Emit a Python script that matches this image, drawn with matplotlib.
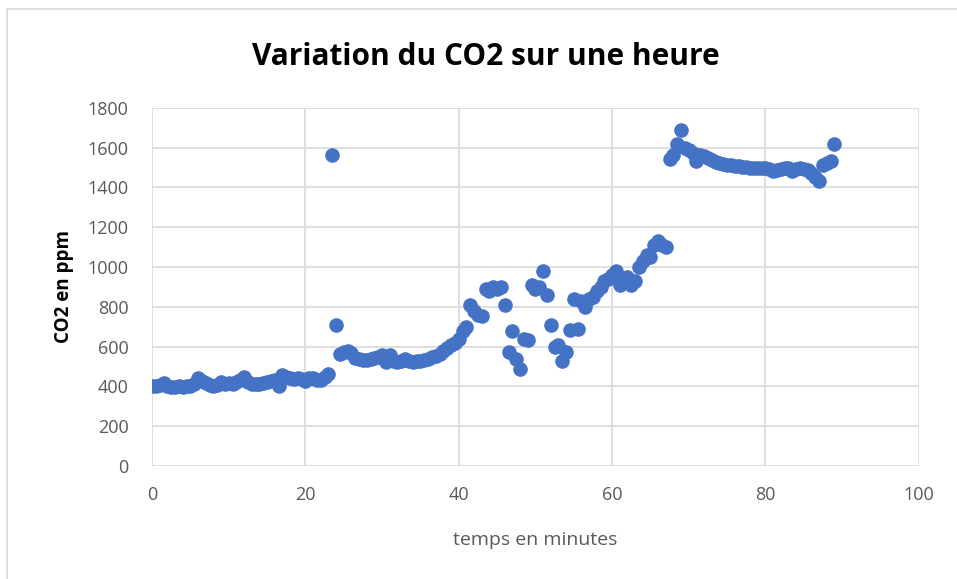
import matplotlib
matplotlib.use('Agg')
import matplotlib.pyplot as plt
from matplotlib.lines import Line2D

# temps (minutes) et CO2 (ppm)
temps = [0, 0.5, 1, 1.5, 2, 2.5, 3, 3.5, 4, 4.5, 5, 5.5, 6, 6.5, 7, 7.5, 8, 8.5, 9, 9.5,
         10, 10.5, 11, 11.5, 12, 12.5, 13, 13.5, 14, 14.5, 15, 15.5, 16, 16.5, 17, 17.5, 18, 18.5, 19, 19.5,
         20, 20.5, 21, 21.5, 22, 22.5, 23, 23.5, 24, 24.5, 25, 25.5, 26, 26.5, 27, 27.5, 28, 28.5, 29, 29.5,
         30, 30.5, 31, 31.5, 32, 32.5, 33, 33.5, 34, 34.5, 35, 35.5, 36, 36.5, 37, 37.5, 38, 38.5, 39, 39.5,
         40, 40.5, 41, 41.5, 42, 42.5, 43, 43.5, 44, 44.5, 45, 45.5, 46, 46.5, 47, 47.5, 48, 48.5, 49, 49.5,
         50, 50.5, 51, 51.5, 52, 52.5, 53, 53.5, 54, 54.5, 55, 55.5, 56, 56.5, 57, 57.5, 58, 58.5, 59, 59.5,
         60, 60.5, 61, 61.5, 62, 62.5, 63, 63.5, 64, 64.5, 65, 65.5, 66, 66.5, 67, 67.5, 68, 68.5, 69, 69.5,
         70, 70.5, 71, 71.5, 72, 72.5, 73, 73.5, 74, 74.5, 75, 75.5, 76, 76.5, 77, 77.5, 78, 78.5, 79, 79.5,
         80, 80.5, 81, 81.5, 82, 82.5, 83, 83.5, 84, 84.5, 85, 85.5, 86, 86.5, 87, 87.5, 88, 88.5, 89]
co2 = [400, 402, 405, 415, 400, 398, 398, 400, 398, 400, 402, 410, 440, 425, 415, 405, 403, 408, 420, 412,
       415, 410, 420, 430, 445, 420, 410, 412, 410, 418, 420, 428, 430, 400, 455, 445, 440, 438, 440, 435,
       425, 440, 440, 430, 430, 445, 465, 1560, 710, 565, 575, 580, 570, 545, 540, 535, 535, 540, 545, 550,
       560, 525, 560, 530, 525, 530, 540, 530, 525, 528, 530, 533, 540, 548, 555, 565, 580, 595, 610, 620,
       640, 680, 700, 810, 780, 760, 755, 890, 880, 900, 890, 900, 810, 575, 680, 540, 490, 640, 635, 910,
       890, 900, 980, 860, 710, 600, 610, 530, 575, 685, 840, 690, 830, 800, 840, 850, 880, 900, 930, 940,
       960, 980, 910, 940, 950, 910, 930, 1000, 1030, 1060, 1050, 1110, 1130, 1110, 1100, 1540, 1560, 1620, 1690, 1600,
       1590, 1570, 1530, 1560, 1555, 1545, 1535, 1525, 1520, 1515, 1512, 1510, 1508, 1505, 1503, 1500, 1498, 1497, 1497, 1497,
       1495, 1490, 1480, 1485, 1490, 1495, 1495, 1480, 1490, 1495, 1490, 1485, 1470, 1450, 1430, 1510, 1520, 1530, 1620]

fig = plt.figure(figsize=(9.57, 5.79), dpi=100)
ax = fig.add_axes([0.159, 0.195, 0.801, 0.619])

ax.plot(temps, co2, 'o', color='#4472C4', markersize=10.5, markeredgewidth=0, zorder=3)

ax.set_xlim(0, 100)
ax.set_ylim(0, 1800)
ax.set_xticks(range(0, 101, 20))
ax.set_yticks(range(0, 1801, 200))
ax.grid(True, color='#D9D9D9', linewidth=1.2)
ax.set_axisbelow(True)
for s in ax.spines.values():
    s.set_visible(False)
ax.tick_params(length=0, labelsize=13, colors='#595959')
ax.tick_params(axis='x', pad=14)
ax.tick_params(axis='y', pad=17)
for t in ax.get_xticklabels() + ax.get_yticklabels():
    t.set_family('Open Sans')

ax.set_xlabel('temps en minutes', fontsize=14, color='#595959', family='Open Sans', labelpad=20)
ax.set_ylabel('CO2 en ppm', fontsize=13.5, fontweight='bold', color='black', family='Open Sans', labelpad=10)
fig.text(0.508, 0.902, 'Variation du CO2 sur une heure', ha='center', va='center',
         fontsize=21.5, fontweight='bold', family='Open Sans')

# bordure grise du cadre (gauche et haut)
fig.add_artist(Line2D([7/957, 7/957], [0, 1 - 9/579], color='#D9D9D9', lw=1.2))
fig.add_artist(Line2D([7/957, 1], [1 - 9/579, 1 - 9/579], color='#D9D9D9', lw=1.2))

fig.savefig('out.png', dpi=100)
